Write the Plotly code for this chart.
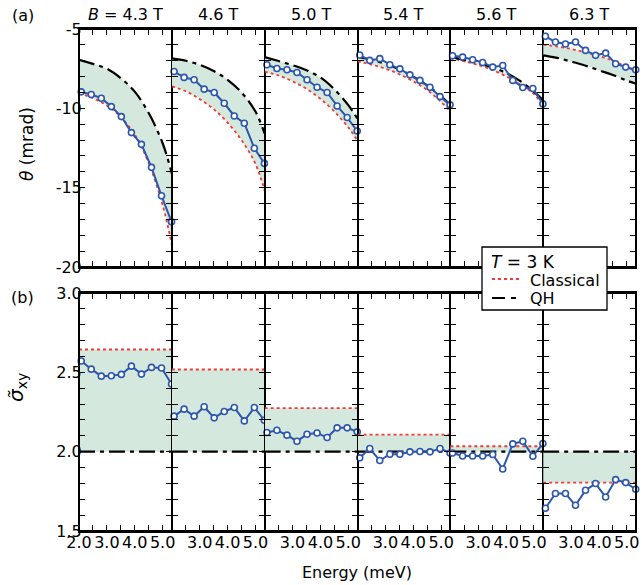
import plotly.graph_objects as go
from plotly.subplots import make_subplots

# ---------------- data ----------------
FIELDS = ["<i>B</i> = 4.3 T", "4.6 T", "5.0 T", "5.4 T", "5.6 T", "6.3 T"]

E_DATA = [2.08, 2.44, 2.80, 3.16, 3.52, 3.88, 4.24, 4.60, 4.96, 5.32]
E_CURVE = [2.0, 2.5, 3.0, 3.5, 4.0, 4.5, 5.0, 5.33]
E_RANGE = [2.0, 5.33]

THETA_DATA = [
    [-8.96, -9.13, -9.36, -9.89, -10.52, -11.53, -12.27, -13.72, -15.51, -17.15],
    [-7.68, -8.05, -8.20, -8.79, -9.00, -9.68, -10.48, -10.94, -12.52, -13.47],
    [-7.25, -7.49, -7.57, -7.74, -8.20, -8.67, -9.00, -9.85, -10.58, -11.43],
    [-6.64, -6.98, -6.87, -7.25, -7.51, -7.89, -8.24, -8.67, -9.26, -9.78],
    [-6.69, -6.77, -6.94, -7.11, -7.40, -7.30, -8.24, -8.69, -8.75, -9.72],
    [-5.46, -5.82, -5.95, -5.82, -6.35, -6.66, -6.52, -7.19, -7.40, -7.57],
]
THETA_CLASSICAL = [
    [-9.04, -9.36, -9.82, -10.55, -11.65, -13.45, -16.1, -18.6],
    [-8.62, -8.92, -9.42, -10.05, -10.9, -12.0, -13.5, -15.2],
    [-7.68, -7.93, -8.30, -8.77, -9.40, -10.2, -11.2, -12.05],
    [-7.04, -7.24, -7.50, -7.85, -8.30, -8.85, -9.60, -10.2],
    [-6.83, -7.04, -7.27, -7.58, -7.98, -8.50, -9.10, -9.85],
    [-5.99, -6.10, -6.26, -6.47, -6.70, -7.00, -7.40, -7.68],
]
THETA_QH = [
    [-6.94, -7.20, -7.50, -8.10, -8.95, -10.3, -12.2, -14.1],
    [-6.85, -7.00, -7.26, -7.65, -8.20, -9.00, -10.2, -11.6],
    [-6.77, -7.02, -7.28, -7.60, -8.05, -8.80, -9.80, -10.65],
    [-6.75, -6.95, -7.20, -7.55, -8.00, -8.55, -9.25, -9.80],
    [-6.76, -6.95, -7.15, -7.42, -7.77, -8.27, -8.95, -9.50],
    [-6.66, -6.82, -7.05, -7.30, -7.60, -7.90, -8.25, -8.45],
]
SIGMA_DATA = [
    [2.571, 2.520, 2.476, 2.478, 2.487, 2.539, 2.489, 2.531, 2.527, 2.426],
    [2.224, 2.268, 2.224, 2.283, 2.213, 2.253, 2.278, 2.194, 2.278, 2.198],
    [2.121, 2.135, 2.104, 2.066, 2.110, 2.118, 2.089, 2.150, 2.150, 2.125],
    [1.961, 2.020, 1.944, 1.984, 1.984, 1.999, 2.001, 1.999, 2.020, 1.992],
    [1.992, 1.973, 1.973, 1.973, 1.982, 1.891, 2.049, 2.066, 1.971, 2.051],
    [1.643, 1.736, 1.736, 1.662, 1.757, 1.799, 1.714, 1.824, 1.805, 1.763],
]
SIGMA_CLASSICAL = [2.644, 2.518, 2.274, 2.108, 2.034, 1.805]
SIGMA_QH = [2.0, 2.0, 2.0, 2.0, 2.0, 2.0]

THETA_TICKS = [-20, -15, -10, -5]
THETA_TICKTEXT = ["-20", "-15", "-10", "-5"]
SIGMA_TICKS = [1.5, 2.0, 2.5, 3.0]
SIGMA_TICKTEXT = ["1.5", "2.0", "2.5", "3.0"]
E_TICKS_FIRST = [2.0, 3.0, 4.0, 5.0]
E_TICKS_OTHER = [3.0, 4.0, 5.0]

# ---------------- style / layout helpers ----------------
BLUE = "#2c56ad"
RED = "#ef3a36"
FILL = "rgb(213,232,221)"
FONT = "DejaVu Sans"
QH_DASH = "16px,5px,4px,5px"

W, H = 642, 585
ML, MR, MT, MB = 79, 6, 29, 54
PW, PH = W - ML - MR, H - MT - MB


def px2x(px):
    return (px - ML) / PW


def py2y(py):
    return (H - MB - py) / PH


fig = make_subplots(rows=2, cols=6, horizontal_spacing=0, vertical_spacing=26 / PH)

for i in range(6):
    c = i + 1
    # ---- top row: theta ----
    fig.add_trace(go.Scatter(x=E_CURVE, y=THETA_CLASSICAL[i], mode="lines",
                             line=dict(width=0, shape="spline"), showlegend=False,
                             hoverinfo="skip"), row=1, col=c)
    fig.add_trace(go.Scatter(x=E_CURVE, y=THETA_QH[i], mode="lines",
                             line=dict(width=0, shape="spline"), fill="tonexty",
                             fillcolor=FILL, showlegend=False, hoverinfo="skip"),
                  row=1, col=c)
    fig.add_trace(go.Scatter(x=E_CURVE, y=THETA_CLASSICAL[i], mode="lines", name="Classical",
                             line=dict(color=RED, width=1.8, dash="dot", shape="spline"),
                             showlegend=False), row=1, col=c)
    fig.add_trace(go.Scatter(x=E_CURVE, y=THETA_QH[i], mode="lines", name="QH",
                             line=dict(color="black", width=2.2, dash=QH_DASH, shape="spline"),
                             showlegend=False), row=1, col=c)
    fig.add_trace(go.Scatter(x=E_DATA, y=THETA_DATA[i], mode="lines+markers",
                             line=dict(color=BLUE, width=2),
                             marker=dict(symbol="circle", size=6, color="white",
                                         line=dict(color=BLUE, width=1.6)),
                             cliponaxis=False, showlegend=False), row=1, col=c)

    # ---- bottom row: sigma ----
    fig.add_trace(go.Scatter(x=E_RANGE, y=[SIGMA_CLASSICAL[i]] * 2, mode="lines",
                             line=dict(width=0), showlegend=False, hoverinfo="skip"),
                  row=2, col=c)
    fig.add_trace(go.Scatter(x=E_RANGE, y=[SIGMA_QH[i]] * 2, mode="lines",
                             line=dict(width=0), fill="tonexty", fillcolor=FILL,
                             showlegend=False, hoverinfo="skip"), row=2, col=c)
    fig.add_trace(go.Scatter(x=E_RANGE, y=[SIGMA_CLASSICAL[i]] * 2, mode="lines",
                             line=dict(color=RED, width=1.8, dash="dot"),
                             showlegend=False), row=2, col=c)
    fig.add_trace(go.Scatter(x=E_RANGE, y=[SIGMA_QH[i]] * 2, mode="lines",
                             line=dict(color="black", width=2.2, dash=QH_DASH),
                             showlegend=False), row=2, col=c)
    fig.add_trace(go.Scatter(x=E_DATA, y=SIGMA_DATA[i], mode="lines+markers",
                             line=dict(color=BLUE, width=2),
                             marker=dict(symbol="circle", size=6, color="white",
                                         line=dict(color=BLUE, width=1.6)),
                             cliponaxis=False, showlegend=False), row=2, col=c)

tickfont = dict(family=FONT, size=16, color="black")
common = dict(showline=True, linecolor="black", mirror="ticks",
              ticks="inside", ticklen=6, tickwidth=1.4, tickcolor="black",
              showgrid=False, zeroline=False, automargin=False, tickfont=tickfont)

for r in (1, 2):
    for c in range(1, 7):
        xt = E_TICKS_FIRST if c == 1 else E_TICKS_OTHER
        fig.update_xaxes(range=E_RANGE, tickvals=xt, linewidth=2,
                         ticktext=["%.1f" % v for v in xt],
                         showticklabels=(r == 2), ticklabelstandoff=-4,
                         minor=dict(ticks="inside", dtick=0.5, tick0=2.0, ticklen=6,
                                    tickwidth=1.4, tickcolor="black"),
                         row=r, col=c, **common)
        if r == 1:
            fig.update_yaxes(range=[-20, -5], tickvals=THETA_TICKS, ticktext=THETA_TICKTEXT,
                             linewidth=1, ticklabelstandoff=-7,
                             minor=dict(ticks="inside", dtick=1, tick0=0, ticklen=6,
                                        tickwidth=1.4, tickcolor="black"),
                             showticklabels=(c == 1), row=r, col=c, **common)
        else:
            fig.update_yaxes(range=[1.5, 3.0], tickvals=SIGMA_TICKS, ticktext=SIGMA_TICKTEXT,
                             linewidth=1, ticklabelstandoff=-7,
                             minor=dict(ticks="inside", dtick=0.1, tick0=0, ticklen=6,
                                        tickwidth=1.4, tickcolor="black"),
                             showticklabels=(c == 1), row=r, col=c, **common)

# outer frames of each row (vertical edges thicker like the reference)
top_dom = fig.layout.yaxis.domain
bot_dom = fig.layout.yaxis7.domain
shapes = []
for d in (top_dom, bot_dom):
    shapes.append(dict(type="rect", xref="paper", yref="paper", x0=0, x1=1,
                       y0=d[0], y1=d[1], line=dict(color="black", width=2),
                       fillcolor="rgba(0,0,0,0)", layer="above"))

# legend drawn by hand to match the reference box
LEG_X0, LEG_X1, LEG_Y0, LEG_Y1 = 482, 607, 247, 310
shapes.append(dict(type="rect", xref="paper", yref="paper",
                   x0=px2x(LEG_X0), x1=px2x(LEG_X1), y0=py2y(LEG_Y1), y1=py2y(LEG_Y0),
                   line=dict(color="black", width=1.3), fillcolor="white", layer="above"))
shapes.append(dict(type="line", xref="paper", yref="paper",
                   x0=px2x(492), x1=px2x(521), y0=py2y(279), y1=py2y(279),
                   line=dict(color=RED, width=1.8, dash="dot"), layer="above"))
shapes.append(dict(type="line", xref="paper", yref="paper",
                   x0=px2x(492), x1=px2x(518), y0=py2y(298), y1=py2y(298),
                   line=dict(color="black", width=2.2, dash="13px,6px,5px,20px"), layer="above"))

ann = []
for i, t in enumerate(FIELDS):
    ann.append(dict(text=t, x=(i + 0.5) / 6, y=py2y(14), xref="paper", yref="paper",
                    showarrow=False, xanchor="center", yanchor="middle",
                    font=dict(family=FONT, size=16, color="black")))


def label(text, px, py, size=16, xanchor="center", angle=0):
    return dict(text=text, x=px2x(px), y=py2y(py), xref="paper", yref="paper",
                showarrow=False, xanchor=xanchor, yanchor="middle", textangle=angle,
                font=dict(family=FONT, size=size, color="black"))


ann += [
    label("(a)", 23, 15),
    label("(b)", 22, 297),
    label("<i>θ</i> (mrad)", 27, 144, size=17, angle=-90),
    label("<i>σ̃</i><sub>xy</sub>", 17, 388, size=20, angle=-90),
    label("Energy (meV)", 357, 572),
    label("<i>T</i> = 3 K", 489, 262, size=17, xanchor="left"),
    label("Classical", 528, 280, xanchor="left"),
    label("QH", 528, 298, xanchor="left"),
]

fig.update_layout(
    width=W, height=H,
    margin=dict(l=ML, r=MR, t=MT, b=MB, autoexpand=False),
    paper_bgcolor="white", plot_bgcolor="white",
    annotations=ann, shapes=shapes,
    showlegend=False,
)

fig.write_html(
    "out.html",
    config={"displayModeBar": False},
    post_script="document.body.style.margin='0';"
                "document.documentElement.style.overflow='hidden';"
                "document.body.style.overflow='hidden';",
)
